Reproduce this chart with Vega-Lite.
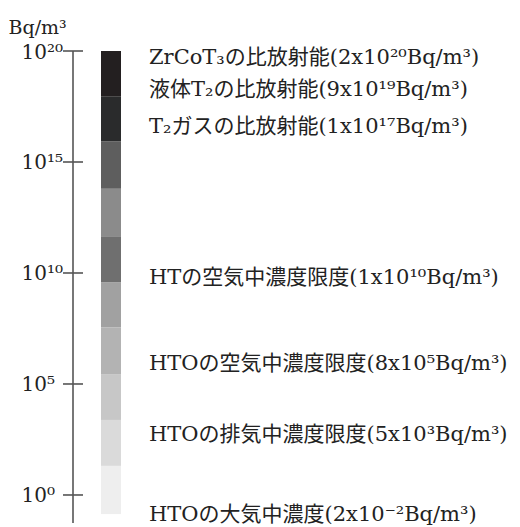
{
  "$schema": "https://vega.github.io/schema/vega-lite/v6.json",
  "padding": {"left": 8, "top": 18, "right": 5, "bottom": 2},
  "spacing": 17,
  "config": {"view": {"stroke": null}},
  "datasets": {
    "bands": [
      {"band": 1, "lo": 8.7e17, "hi": 1e20},
      {"band": 2, "lo": 8.7e15, "hi": 8.7e17},
      {"band": 3, "lo": 6.2e13, "hi": 8.7e15},
      {"band": 4, "lo": 4.2e11, "hi": 6.2e13},
      {"band": 5, "lo": 3.9e9, "hi": 4.2e11},
      {"band": 6, "lo": 3.6e7, "hi": 3.9e9},
      {"band": 7, "lo": 2.8e5, "hi": 3.6e7},
      {"band": 8, "lo": 2.4e3, "hi": 2.8e5},
      {"band": 9, "lo": 20.4, "hi": 2.4e3},
      {"band": 10, "lo": 0.138, "hi": 20.4}
    ],
    "ticks": [{"v": 1}, {"v": 1e5}, {"v": 1e10}, {"v": 1e15}, {"v": 1e20}],
    "labels": [
      {"label": "ZrCoT₃の比放射能(2x10²⁰Bq/m³)", "pos": 5e19},
      {"label": "液体T₂の比放射能(9x10¹⁹Bq/m³)", "pos": 1.75e18},
      {"label": "T₂ガスの比放射能(1x10¹⁷Bq/m³)", "pos": 3.7e16},
      {"label": "HTの空気中濃度限度(1x10¹⁰Bq/m³)", "pos": 5.9e9},
      {"label": "HTOの空気中濃度限度(8x10⁵Bq/m³)", "pos": 7.8e5},
      {"label": "HTOの排気中濃度限度(5x10³Bq/m³)", "pos": 490},
      {"label": "HTOの大気中濃度(2x10⁻²Bq/m³)", "pos": 0.12}
    ]
  },
  "hconcat": [
    {
      "width": 20,
      "height": 472,
      "layer": [
        {
          "data": {"name": "ticks"},
          "mark": {"type": "rule", "color": "#555555", "strokeWidth": 1.6},
          "encoding": {
            "y": {
              "field": "v",
              "type": "quantitative",
              "scale": {"type": "log", "domain": [0.0547, 1e20], "nice": false, "zero": false},
              "axis": {
                "orient": "left",
                "values": [1, 1e5, 1e10, 1e15, 1e20],
                "labelExpr": "datum.value == 1 ? '10⁰' : datum.value == 1e5 ? '10⁵' : datum.value == 1e10 ? '10¹⁰' : datum.value == 1e15 ? '10¹⁵' : '10²⁰'",
                "labelFont": "DejaVu Serif",
                "labelFontSize": 20,
                "labelColor": "#222222",
                "labelAlign": "left",
                "labelBaseline": "middle",
                "labelOffset": 1,
                "labelPadding": 42,
                "labelOverlap": false,
                "labelFlush": false,
                "domain": false,
                "ticks": false,
                "grid": false,
                "title": "Bq/m³",
                "titleFont": "DejaVu Serif",
                "titleFontSize": 19,
                "titleFontWeight": "normal",
                "titleColor": "#222222",
                "titleAngle": 0,
                "titleAlign": "left",
                "titleBaseline": "alphabetic",
                "titleX": -55,
                "titleY": -18
              }
            }
          }
        },
        {
          "data": {"values": [{"lo": 0.0547, "hi": 1e20, "mid": 0.5}]},
          "mark": {"type": "rule", "color": "#555555", "strokeWidth": 1.6},
          "encoding": {
            "x": {
              "field": "mid",
              "type": "quantitative",
              "scale": {"domain": [0, 1]},
              "axis": null
            },
            "y": {"field": "lo", "type": "quantitative"},
            "y2": {"field": "hi"}
          }
        }
      ]
    },
    {
      "width": 20,
      "height": 472,
      "data": {"name": "bands"},
      "mark": {"type": "rect"},
      "encoding": {
        "y": {
          "field": "lo",
          "type": "quantitative",
          "scale": {"type": "log", "domain": [0.0547, 1e20], "nice": false, "zero": false},
          "axis": null
        },
        "y2": {"field": "hi"},
        "color": {
          "field": "band",
          "type": "ordinal",
          "scale": {
            "domain": [1, 2, 3, 4, 5, 6, 7, 8, 9, 10],
            "range": ["#231f20", "#2a2b2c", "#5e5e5e", "#8b8b8b", "#6f6f6f", "#a1a1a1", "#b3b3b3", "#c7c7c7", "#dadada", "#eeeeee"]
          },
          "legend": null
        }
      }
    },
    {
      "width": 22,
      "height": 472,
      "data": {"name": "labels"},
      "mark": {
        "type": "text",
        "align": "left",
        "baseline": "middle",
        "font": "DejaVu Serif, Noto Sans CJK JP",
        "fontSize": 21,
        "color": "#222222"
      },
      "encoding": {
        "y": {
          "field": "pos",
          "type": "quantitative",
          "scale": {"type": "log", "domain": [0.0547, 1e20], "nice": false, "zero": false},
          "axis": null
        },
        "text": {"field": "label"}
      }
    }
  ]
}
